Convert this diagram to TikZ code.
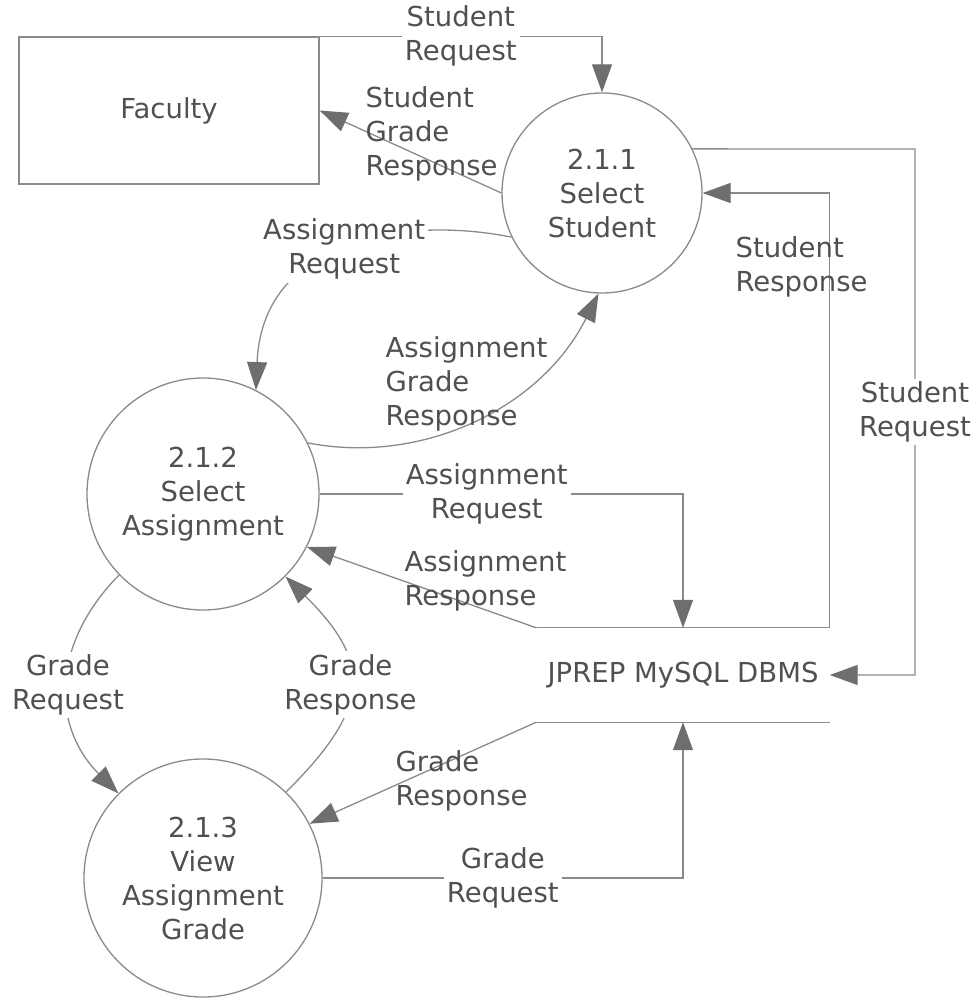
\documentclass[tikz,border=0pt]{standalone}
\usepackage{fontspec}
\setmainfont{DejaVu Sans}
\usetikzlibrary{arrows.meta}
\definecolor{linegray}{HTML}{8A8A8A}
\definecolor{tipgray}{HTML}{6E6E6E}
\definecolor{textgray}{HTML}{505050}

\begin{document}
\begin{tikzpicture}[x=1pt, y=-1pt, >={Triangle[length=28pt, width=20pt, color=tipgray]},
    every node/.style={font=\fontsize{27.5}{34}\selectfont, text=textgray},
    proc/.style={circle, draw=linegray, line width=1.3pt, align=center, inner sep=0pt},
    flow/.style={->, draw=linegray, line width=1.3pt},
    lbl/.style={fill=white, align=center, inner sep=3pt}]
  \useasboundingbox (0,0) rectangle (977,998);

  % Faculty and the data store
  \node[draw=linegray, line width=1.3pt, minimum width=300pt, minimum height=147pt] (fac) at (169,110.5) {Faculty};
  \node[minimum width=293pt, minimum height=94pt, inner sep=0pt] (db) at (683,675) {JPREP MySQL DBMS};
  \draw[linegray, line width=1.3pt] (db.north west) -- (db.north east) (db.south west) -- (db.south east);

  % Processes
  \node[proc, minimum size=200pt] (s1) at (602,193) {2.1.1\\Select\\Student};
  \node[proc, minimum size=232pt] (s2) at (203,494) {2.1.2\\Select\\Assignment};
  \node[proc, minimum size=238pt] (s3) at (203,878) {2.1.3\\View\\Assignment\\Grade};

  % Flows round 2.1.1
  \draw[flow] (fac.north east) -| (s1.north) node[lbl, pos=0.25] {Student\\Request};
  \draw[flow] (s1.west) -- (fac.east);
  \node[align=left, anchor=west] at (362,134) {Student\\Grade\\Response};
  \draw[flow] (s1.206) .. controls (400,215) and (262,241) .. (s2.63) node[lbl, pos=0.5] {Assignment\\Request};
  \draw[flow] (s2.26) .. controls (420,465) and (540,410) .. (s1.268);
  \node[align=left, anchor=west] at (382,384) {Assignment\\Grade\\Response};
  \coordinate (sreq) at (915,149);
  \draw[flow] (s1.26) -- (sreq) |- (db.east) node[lbl, pos=0.25] {Student\\Request};
  \draw[flow] (db.north east) |- (s1.east);
  \node[align=left, anchor=west] at (732,267) {Student\\Response};

  % Flows round 2.1.2
  \draw[flow] (s2.east) -| (db.north) node[lbl, pos=0.23] {Assignment\\Request};
  \draw[flow] (db.north west) -- (s2.333);
  \node[align=left, anchor=west] at (401,581) {Assignment\\Response};
  \draw[flow] (s2.224) .. controls (51,644) and (51,726) .. (s3.135) node[lbl, pos=0.5] {Grade\\Request};
  \draw[flow] (s3.46) .. controls (372,707) and (372,662) .. (s2.315) node[lbl, pos=0.5] {Grade\\Response};

  % Flows round 2.1.3
  \draw[flow] (db.south west) -- (s3.27);
  \node[align=left, anchor=west] at (392,781) {Grade\\Response};
  \draw[flow] (s3.east) -| (db.south) node[lbl, pos=0.25] {Grade\\Request};
\end{tikzpicture}
\end{document}
